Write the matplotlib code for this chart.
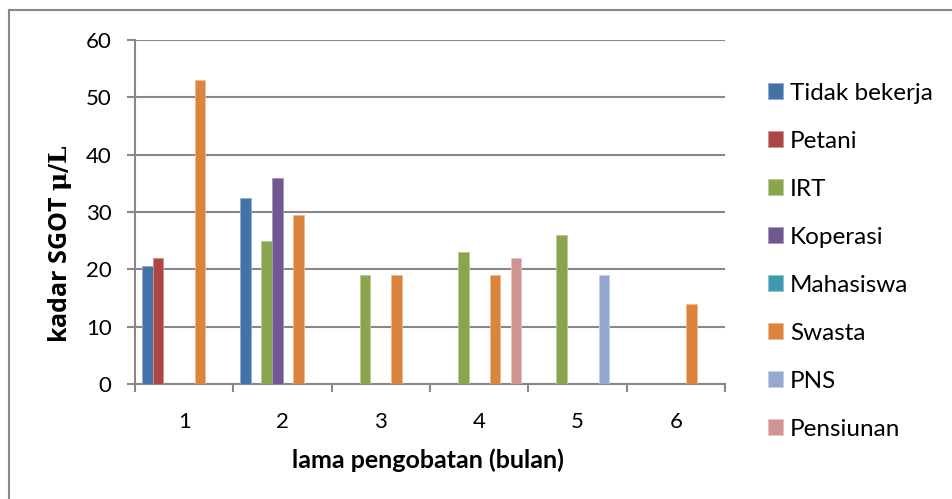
import matplotlib.pyplot as plt
import matplotlib.patches as mpatches
import numpy as np

# data
months = ["1", "2", "3", "4", "5", "6"]
series = ["Tidak bekerja", "Petani", "IRT", "Koperasi", "Mahasiswa", "Swasta", "PNS", "Pensiunan"]
tidak_bekerja = [20.5, 32.5, 0, 0, 0, 0]
petani = [22, 0, 0, 0, 0, 0]
irt = [0, 25, 19, 23, 26, 0]
koperasi = [0, 36, 0, 0, 0, 0]
mahasiswa = [0, 0, 0, 0, 0, 0]
swasta = [53, 29.5, 19, 19, 0, 14]
pns = [0, 0, 0, 0, 19, 0]
pensiunan = [0, 0, 0, 22, 0, 0]
values = [tidak_bekerja, petani, irt, koperasi, mahasiswa, swasta, pns, pensiunan]
colors = ["#4572A7", "#AA4643", "#89A54E", "#71588F", "#4198AF", "#DB843D", "#93A9CF", "#D19392"]
edges = ["#8FAAD0", "#D08E8C", "#B6CB92", "#A796BF", "#8CC6D6", "#F2B98E", "#C3D0E6", "#E8C2C1"]

plt.rcParams['font.family'] = ['Lato', 'DejaVu Sans']
plt.rcParams['mathtext.fontset'] = 'dejavuserif'
grid_col = "#888888"

fig = plt.figure(figsize=(9.53, 4.99), dpi=100)
ax = fig.add_axes([135/953, 1-384/499, 590/953, 344/499])

x = np.arange(1, len(months)+1)
w = 0.855/len(series)
for k, (name, vals) in enumerate(zip(series, values)):
    ax.bar(x + (k-3.5)*w, vals, width=w, color=colors[k], edgecolor=edges[k],
           linewidth=0.6, label=name, zorder=3)

ax.set_xlim(0.5, 6.5)
ax.set_ylim(0, 60)
ax.set_yticks(range(0, 61, 10))
ax.set_xticks(x)
ax.set_xticklabels(months)
ax.set_xticks(np.arange(0.5, 6.6, 1), minor=True)
ax.tick_params(axis='x', which='major', length=0, pad=20, labelsize=16)
ax.tick_params(axis='x', which='minor', length=5.8, width=1.5, color=grid_col)
ax.tick_params(axis='y', length=5.8, width=1.5, color=grid_col, pad=11, labelsize=16)
ax.yaxis.grid(True, color=grid_col, linewidth=1.5, zorder=0)
ax.set_axisbelow(True)
for s in ['top', 'right']:
    ax.spines[s].set_visible(False)
for s in ['left', 'bottom']:
    ax.spines[s].set_color(grid_col)
    ax.spines[s].set_linewidth(1.5)

fig.text(428/953, 1-460/499, "lama pengobatan (bulan)", ha='center', va='center',
         fontsize=18, fontweight='bold')
fig.text(60/953, 1-244/499, r"kadar SGOT $\mathbf{\mu/L}$", ha='center', va='center',
         rotation=90, fontsize=18, fontweight='bold', family=['Open Sans', 'DejaVu Sans'])

fig.legend(loc='upper left', bbox_to_anchor=(758/953, 1-73/499), frameon=False,
           fontsize=17.5, labelspacing=1.11, handlelength=0.62, handleheight=0.62,
           handletextpad=0.29, borderaxespad=0)

# outer chart frame
fig.patches.append(mpatches.Rectangle((9/953, -0.05), 1.0, 1-10/499+0.05,
                                      transform=fig.transFigure, fill=False,
                                      edgecolor=grid_col, linewidth=1.5))

fig.savefig("out.png", dpi=100)
